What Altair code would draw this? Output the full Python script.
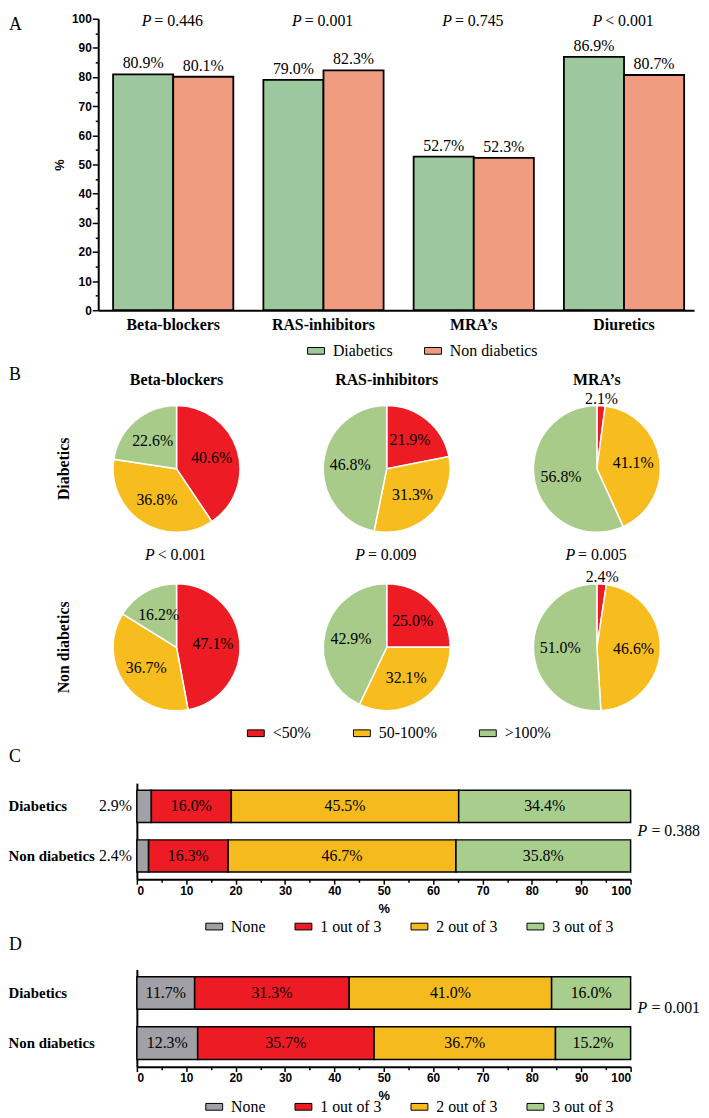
import altair as alt
import pandas as pd

SERIF = "Liberation Serif, Times New Roman, serif"
SANS = "Liberation Sans Narrow, Arial Narrow, Liberation Sans, Arial, sans-serif"
RECT = "M-1,-0.4H1V0.4H-1Z"

# ---------------- data ----------------
groups = ["Diabetics", "Non diabetics"]

drugs_a = ["Beta-blockers", "RAS-inhibitors", "MRA\u2019s", "Diuretics"]
diab_a = [80.9, 79.0, 52.7, 86.9]
nondiab_a = [80.1, 82.3, 52.3, 80.7]
p_a = ["= 0.446", "= 0.001", "= 0.745", "< 0.001"]
colors_a = ["#9DC89E", "#F09C80"]

pie_drugs = ["Beta-blockers", "RAS-inhibitors", "MRA\u2019s"]
dose_cats = ["<50%", "50-100%", ">100%"]
diab_dose = [[40.6, 36.8, 22.6], [21.9, 31.3, 46.8], [2.1, 41.1, 56.8]]
nondiab_dose = [[47.1, 36.7, 16.2], [25.0, 32.1, 42.9], [2.4, 46.6, 51.0]]
p_b = ["< 0.001", "= 0.009", "= 0.005"]
colors_b = ["#ED1C24", "#F7BC1E", "#A8CB8A"]

n_cats = ["None", "1 out of 3", "2 out of 3", "3 out of 3"]
c_diab = [2.9, 16.0, 45.5, 34.4]
c_non = [2.4, 16.3, 46.7, 35.8]
p_c = "= 0.388"
d_diab = [11.7, 31.3, 41.0, 16.0]
d_non = [12.3, 35.7, 36.7, 15.2]
p_d = "= 0.001"
colors_cd = ["#A0A0A6", "#ED1C24", "#F5BB1E", "#A8CE8E"]


def legend(x, y, gap):
    return alt.Legend(orient="none", legendX=x, legendY=y, direction="horizontal", title=None,
                      symbolType=RECT, symbolSize=289, symbolStrokeColor="black", symbolStrokeWidth=1,
                      labelFont=SERIF, labelFontSize=16, labelColor="black", labelOffset=8,
                      columnPadding=gap, padding=0)


# ---------------- panel A ----------------
rows = []
for i, d in enumerate(drugs_a):
    rows.append({"drug": d, "group": groups[0], "pct": diab_a[i]})
    rows.append({"drug": d, "group": groups[1], "pct": nondiab_a[i]})
dfa = pd.DataFrame(rows)
dfa["label"] = dfa["pct"].map(lambda v: f"{v:.1f}%")
dfa_p = pd.DataFrame({"drug": drugs_a, "p": p_a})

WA, HA = 601, 294
xa = alt.X("drug:N", sort=drugs_a,
           scale=alt.Scale(paddingInner=0.2, paddingOuter=0.0825, align=0.6),
           axis=alt.Axis(title=None, labelAngle=0, labelFont=SERIF, labelFontWeight="bold",
                         labelFontSize=16, labelColor="black", ticks=False, labelPadding=6,
                         domainColor="black", domainWidth=2))
ya_axis = alt.Axis(title="%", values=list(range(0, 101, 5)), labelOverlap=False,
                   labelExpr="datum.value % 10 == 0 ? format(datum.value, 'd') : ''",
                   tickSize={"condition": {"test": "datum.value % 10 != 0", "value": 3}, "value": 6},
                   tickColor="black", tickWidth=1.5, domainColor="black", domainWidth=2,
                   labelFont=SANS, labelFontWeight="bold", labelFontSize=12, labelColor="black",
                   labelPadding=1, titleFont=SANS, titleFontWeight="bold", titleFontSize=13,
                   titleColor="black", titlePadding=5, grid=False)
ya = alt.Y("pct:Q", scale=alt.Scale(domain=[0, 100], nice=False), axis=ya_axis)
bars_a = alt.Chart(dfa).mark_bar(stroke="black", strokeWidth=1.8).encode(
    x=xa, y=ya,
    xOffset=alt.XOffset("group:N", sort=groups),
    color=alt.Color("group:N", sort=groups, scale=alt.Scale(domain=groups, range=colors_a),
                    legend=legend(210.7, 326, 29)),
)
vals_a = alt.Chart(dfa).mark_text(font=SERIF, fontSize=16, baseline="alphabetic", dy=-6, color="black").encode(
    x=xa, xOffset=alt.XOffset("group:N", sort=groups), y=ya, text="label:N")
pi_a = alt.Chart(dfa_p).mark_text(font=SERIF, fontSize=16, fontStyle="italic", align="right",
                                  baseline="middle", dx=-22, color="black").encode(
    x=xa, y=alt.value(2), text=alt.value("P"))
pr_a = alt.Chart(dfa_p).mark_text(font=SERIF, fontSize=16, align="left", baseline="middle",
                                  dx=-19, color="black").encode(
    x=xa, y=alt.value(2), text="p:N")
let_a = alt.Chart(pd.DataFrame({"t": ["A"]})).mark_text(
    font=SERIF, fontSize=18, align="left", baseline="middle", color="black").encode(
    x=alt.value(-90), y=alt.value(6), text="t:N")
panel_a = alt.layer(bars_a, vals_a, pi_a, pr_a, let_a).properties(width=WA, height=HA)

# ---------------- panel B ----------------
rows_b = []
for j, d in enumerate(pie_drugs):
    for g, vals in ((groups[0], diab_dose[j]), (groups[1], nondiab_dose[j])):
        for k, c in enumerate(dose_cats):
            rows_b.append({"drug": d, "group": g, "cat": c, "order": k, "pct": vals[k], "p": p_b[j]})
dfb = pd.DataFrame(rows_b)
dfb["label"] = dfb["pct"].map(lambda v: f"{v:.1f}%")

CW, CH = 158, 150
R = 64
theta_sc = alt.Scale(domain=[0, 100])
arcs = alt.Chart().mark_arc(outerRadius=R, stroke="white", strokeWidth=1.5).encode(
    theta=alt.Theta("pct:Q", stack=True, scale=theta_sc),
    order=alt.Order("order:Q", sort="ascending"),
    color=alt.Color("cat:N", sort=dose_cats, scale=alt.Scale(domain=dose_cats, range=colors_b),
                    legend=legend(150, 332.7, 40)),
)
tb = alt.Chart().transform_window(
    cum="sum(pct)", groupby=["drug", "group"], sort=[alt.SortField("order")], frame=[None, 0]
).transform_calculate(mid="datum.cum - datum.pct / 2")
in_lab = tb.transform_filter("datum.pct >= 5").mark_text(
    radius=37, font=SERIF, fontSize=16, color="black").encode(
    theta=alt.Theta("mid:Q", scale=theta_sc), text="label:N")
out_lab = tb.transform_filter("datum.pct < 5").mark_text(
    radius=71, font=SERIF, fontSize=16, color="black").encode(
    theta=alt.Theta("mid:Q", scale=theta_sc), text="label:N")
pb = alt.Chart().transform_filter("datum.group == 'Diabetics' && datum.order == 0")
pi_b = pb.mark_text(font=SERIF, fontSize=16, fontStyle="italic", align="right", baseline="middle",
                    dx=-22, color="black").encode(x=alt.value(CW / 2), y=alt.value(CH / 2 + 87),
                                                  text=alt.value("P"))
pr_b = pb.mark_text(font=SERIF, fontSize=16, align="left", baseline="middle",
                    dx=-19, color="black").encode(x=alt.value(CW / 2), y=alt.value(CH / 2 + 87), text="p:N")
let_b = alt.Chart().transform_filter(
    "datum.group == 'Diabetics' && datum.order == 0 && datum.drug == 'Beta-blockers'"
).mark_text(font=SERIF, fontSize=18, align="left", baseline="middle", color="black").encode(
    x=alt.value(-90), y=alt.value(-19.8), text=alt.value("B"))
panel_b = alt.layer(arcs, in_lab, out_lab, pi_b, pr_b, let_b, data=dfb).properties(
    width=CW, height=CH).facet(
    row=alt.Row("group:N", sort=groups,
                header=alt.Header(title=None, labelAngle=-90, labelOrient="left", labelFont=SERIF,
                                  labelFontWeight="bold", labelFontSize=16, labelColor="black",
                                  labelPadding=18)),
    column=alt.Column("drug:N", sort=pie_drugs,
                      header=alt.Header(title=None, labelFont=SERIF, labelFontWeight="bold",
                                        labelFontSize=16, labelColor="black", labelPadding=7)),
    spacing={"row": 30, "column": 54},
    bounds="flush",
)

# ---------------- panels C and D ----------------
X0 = 39       # left offset of the zero line inside the shared column
XW = 498      # length of the 0-100 axis


def stacked_panel(vals_d, vals_n, pstr, letter, height, p_y, leg_y, let_y, title_pad):
    rws = []
    for g, vals in ((groups[0], vals_d), (groups[1], vals_n)):
        for k, c in enumerate(n_cats):
            rws.append({"group": g, "cat": c, "order": k, "pct": vals[k]})
    df = pd.DataFrame(rws)
    df["label"] = df["pct"].map(lambda v: f"{v:.1f}%")
    base = alt.Chart(df).transform_stack(
        stack="pct", groupby=["group"], as_=["x0", "x1"], offset="normalize",
        sort=[alt.SortField("order")]
    ).transform_calculate(xm="(datum.x0 + datum.x1) / 2")
    xs = alt.Scale(domain=[0, 1], nice=False, range=[X0, X0 + XW])
    ys = alt.Scale(paddingInner=0.35, paddingOuter=0.145)
    xax = alt.Axis(title="%", values=[i / 20 for i in range(21)], labelOverlap=False,
                   labelExpr="round(datum.value * 100) % 10 == 0 ? format(datum.value * 100, 'd') : ''",
                   tickSize={"condition": {"test": "round(datum.value * 100) % 10 != 0", "value": 3}, "value": 5},
                   tickColor="black", tickWidth=1.5, domainColor="black", domainWidth=2,
                   labelFont=SANS, labelFontWeight="bold", labelFontSize=12, labelColor="black",
                   labelPadding=1, titleFont=SANS, titleFontWeight="bold", titleFontSize=13,
                   titleColor="black", titlePadding=title_pad, grid=False)
    yax = alt.Axis(title=None, ticks=False, labelAlign="left", labelPadding=130, labelFont=SERIF,
                   labelFontWeight="bold", labelFontSize=15, labelColor="black", offset=-X0,
                   domainColor="black", domainWidth=2)
    X = alt.X("x0:Q", scale=xs, axis=xax)
    Y = alt.Y("group:N", sort=groups, scale=ys, axis=yax)
    bars = base.mark_bar(stroke="black", strokeWidth=1.5).encode(
        x=X, x2="x1:Q", y=Y,
        color=alt.Color("cat:N", sort=n_cats, scale=alt.Scale(domain=n_cats, range=colors_cd),
                        legend=legend(108, leg_y, 27)),
    )
    inner = base.transform_filter("datum.pct >= 5").mark_text(
        font=SERIF, fontSize=16, color="black").encode(
        x=alt.X("xm:Q", scale=xs, axis=xax), y=Y, text="label:N")
    outer = base.transform_filter("datum.pct < 5").mark_text(
        font=SERIF, fontSize=16, color="black", align="right", dx=-5).encode(
        x=X, y=Y, text="label:N")
    pdf = pd.DataFrame({"p": [pstr]})
    p_it = alt.Chart(pdf).mark_text(font=SERIF, fontSize=16, fontStyle="italic", align="left",
                                    baseline="middle", dx=7, color="black").encode(
        x=alt.XDatum(1.0, scale=xs, axis=xax), y=alt.value(p_y), text=alt.value("P"))
    p_rest = alt.Chart(pdf).mark_text(font=SERIF, fontSize=16, align="left", baseline="middle",
                                      dx=21, color="black").encode(
        x=alt.XDatum(1.0, scale=xs, axis=xax), y=alt.value(p_y), text="p:N")
    let = alt.Chart(pd.DataFrame({"t": [letter]})).mark_text(
        font=SERIF, fontSize=18, align="left", baseline="middle", color="black").encode(
        x=alt.value(-90), y=alt.value(let_y), text="t:N")
    return alt.layer(bars, inner, outer, p_it, p_rest, let).properties(width=X0 + XW, height=height)


panel_c = stacked_panel(c_diab, c_non, p_c, "C", 97, 48.4, 135.7, -26.3, 7)
panel_d = stacked_panel(d_diab, d_non, p_d, "D", 98, 39, 129.5, -25, 6)

cd = alt.vconcat(panel_c, panel_d, spacing=1).resolve_scale(color="independent")
bcd = alt.vconcat(panel_b, cd, spacing=6).resolve_scale(color="independent")
chart = alt.vconcat(panel_a, bcd, spacing=7).resolve_scale(color="independent").properties(
    padding={"left": 0, "top": 0, "right": 0, "bottom": 4}
).configure_view(stroke=None)

chart.save("out.html", embed_options={"renderer": "svg", "actions": False})
